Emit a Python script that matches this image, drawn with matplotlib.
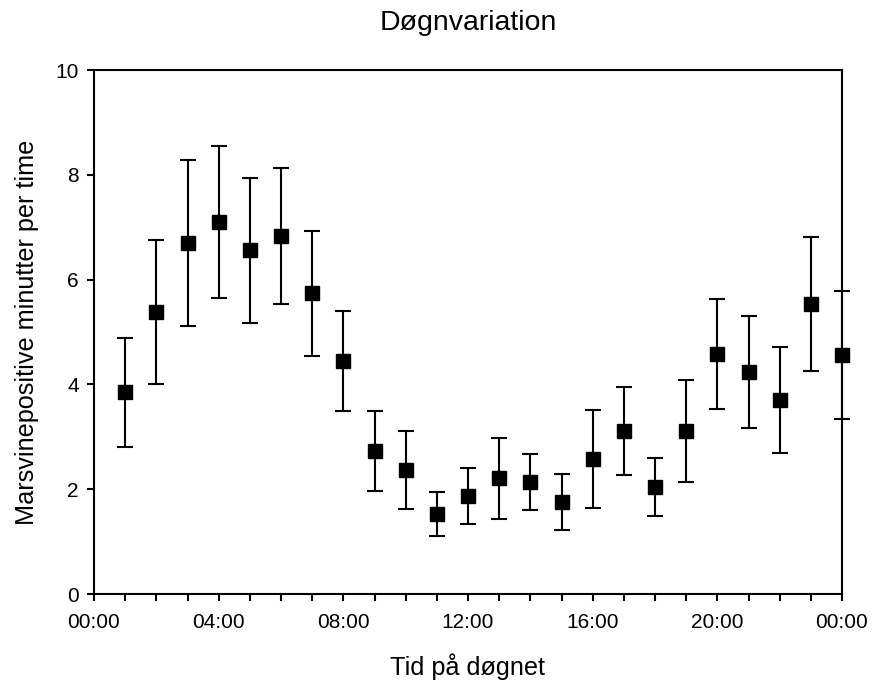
import matplotlib
matplotlib.use("Agg")
import matplotlib.pyplot as plt
from matplotlib.ticker import MultipleLocator, FixedLocator

plt.rcParams['font.family'] = ['Liberation Sans', 'DejaVu Sans']

hours = list(range(1, 25))
means = [3.85, 5.38, 6.70, 7.10, 6.56, 6.83, 5.74, 4.45, 2.73, 2.37, 1.53, 1.87,
         2.21, 2.14, 1.76, 2.58, 3.11, 2.04, 3.11, 4.58, 4.24, 3.70, 5.53, 4.56]
upper = [4.89, 6.76, 8.28, 8.55, 7.94, 8.13, 6.93, 5.40, 3.49, 3.11, 1.95, 2.40,
         2.98, 2.67, 2.29, 3.51, 3.95, 2.60, 4.08, 5.63, 5.31, 4.71, 6.81, 5.78]
xtick_hours = [0, 4, 8, 12, 16, 20, 24]
xtick_labels = ["00:00", "04:00", "08:00", "12:00", "16:00", "20:00", "00:00"]
yticks = [0, 2, 4, 6, 8, 10]

errs = [u - m for u, m in zip(upper, means)]

fig = plt.figure(figsize=(8.75, 6.81), dpi=100)
ax = fig.add_axes([94/875, 1 - 594/681, (842-94)/875, (594-70)/681])

ax.errorbar(hours, means, yerr=errs, fmt='s', color='black', markersize=10.5,
            elinewidth=1.5, capsize=5.5, capthick=1.5, clip_on=False, zorder=3)

ax.set_xlim(0, 24)
ax.set_ylim(0, 10)
ax.xaxis.set_major_locator(FixedLocator(xtick_hours))
ax.set_xticklabels(xtick_labels)
ax.xaxis.set_minor_locator(MultipleLocator(1))
ax.set_yticks(yticks)
ax.tick_params(axis='both', which='major', direction='out', length=5, width=1.5,
               labelsize=15)
ax.tick_params(axis='x', which='major', pad=9)
ax.tick_params(axis='y', which='major', pad=6)
ax.tick_params(axis='x', which='minor', direction='out', length=5, width=1.5)
for s in ax.spines.values():
    s.set_linewidth(1.5)

ax.set_xlabel("Tid på døgnet", fontsize=18.2, labelpad=15)
ax.set_ylabel("Marsvinepositive minutter per time", fontsize=18.2, labelpad=12)
ax.set_title("Døgnvariation", fontsize=20.5, pad=29)

fig.savefig("out.png", dpi=100)
